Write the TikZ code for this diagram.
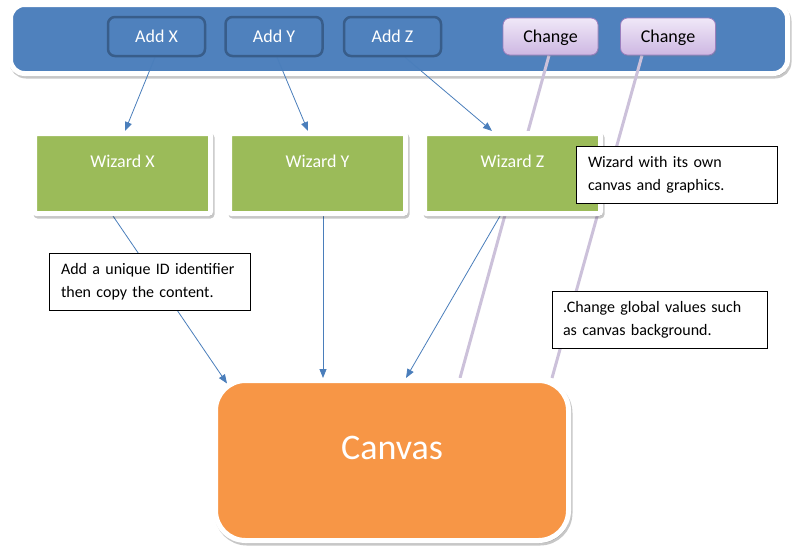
\documentclass[tikz,border=0pt]{standalone}
\usepackage{fontspec}
\setmainfont{Carlito}
\usetikzlibrary{arrows.meta, shadows}

\definecolor{barblue}{HTML}{4F81BD}
\definecolor{btnedge}{HTML}{385D8A}
\definecolor{wizgreen}{HTML}{9BBB59}
\definecolor{canvasorange}{HTML}{F79646}
\definecolor{lavtop}{HTML}{F0E8F8}
\definecolor{lavbot}{HTML}{CDB7E2}
\definecolor{lavedge}{HTML}{9A7EBE}
\definecolor{changeline}{HTML}{CCC1DA}
\definecolor{linkblue}{HTML}{4A7EBB}

\pgfdeclarelayer{barlayer}
\pgfdeclarelayer{links}
\pgfsetlayers{barlayer,links,main}

\begin{document}
\begin{tikzpicture}[
    x=1pt, y=-1pt,
    softshadow/.style={drop shadow={fill=black, draw=black, line width=5pt, opacity=0.22, shadow xshift=1.5pt, shadow yshift=-2.5pt}},
    toolbarbox/.style={rectangle, draw=white, line width=5pt, rounded corners=14pt, fill=barblue, minimum width=777pt, minimum height=69pt, softshadow},
    addbtn/.style={rectangle, draw=btnedge, line width=2.5pt, rounded corners=7pt, fill=barblue, text=white, minimum width=97pt, minimum height=39pt, font=\fontsize{18}{21}\selectfont, text height=12pt, text depth=0pt},
    chgbtn/.style={rectangle, draw=lavedge, line width=0.8pt, rounded corners=7pt, top color=lavtop, bottom color=lavbot, minimum width=95pt, minimum height=37pt, font=\fontsize{18}{21}\selectfont, text height=12pt, text depth=0pt, drop shadow={opacity=0.25, shadow xshift=1pt, shadow yshift=-1.5pt}},
    wizard/.style={rectangle, draw=white, line width=5pt, rounded corners=2pt, fill=wizgreen, text=white, minimum width=176pt, minimum height=80pt, font=\fontsize{18}{21}\selectfont, text height=12pt, text depth=25pt, softshadow},
    canvasbox/.style={rectangle, draw=white, line width=5pt, rounded corners=30pt, fill=canvasorange, text=white, minimum width=353pt, minimum height=160pt, font=\fontsize{36}{40}\selectfont, text height=24pt, text depth=27pt, softshadow},
    note/.style={rectangle, draw=black, line width=0.8pt, fill=white, align=left, inner xsep=12pt, minimum height=57pt, font=\fontsize{16}{23}\selectfont},
    link/.style={draw=linkblue, line width=0.8pt, -{Triangle[length=9pt,width=7pt]}},
    changelink/.style={draw=changeline, line width=3pt}
]
    \useasboundingbox (0,0) rectangle (805,552);

    % toolbar
    \begin{pgfonlayer}{barlayer}
        \node[toolbarbox] (toolbar) at (399,39) {};
    \end{pgfonlayer}
    \node[addbtn] (addx) at (156.5,36.5) {Add X};
    \node[addbtn] (addy) at (274,36.5) {Add Y};
    \node[addbtn] (addz) at (392.5,36.5) {Add Z};
    \node[chgbtn] (chg1) at (550.5,36.5) {Change};
    \node[chgbtn] (chg2) at (668,36.5) {Change};

    % wizards
    \node[wizard] (wizx) at (122.5,173.5) {Wizard X};
    \node[wizard] (wizy) at (317.5,173.5) {Wizard Y};
    \node[wizard] (wizz) at (512.5,173.5) {Wizard Z};

    % canvas
    \node[canvasbox] (canvas) at (392,460.5) {Canvas};

    % notes
    \node[note, text width=177pt] (ownnote) at (676.5,174.5) {\mbox{Wizard with its own}\\\mbox{canvas and graphics.}};
    \node[note, text width=193pt, inner xsep=11pt] (globalnote) at (659.5,319.5) {\mbox{.Change global values such}\\\mbox{as canvas background.}};
    \node[note, text width=177pt] (idnote) at (149.5,282) {\mbox{Add a unique ID identifier}\\\mbox{then copy the content.}};

    % connectors
    \begin{pgfonlayer}{links}
        \draw[link] ([xshift=-1.5pt]addx.south) -- ([xshift=2.5pt]wizx.north);
        \draw[link] ([xshift=3pt]addy.south) -- ([xshift=-9.5pt]wizy.north);
        \draw[link] ([xshift=12.5pt]addz.south) -- ([xshift=-20.5pt]wizz.north);
        \draw[link] ([xshift=-9.5pt]wizx.south) -- ([xshift=14pt,yshift=-5.5pt]canvas.north west);
        \draw[link] ([xshift=5.5pt]wizy.south) -- ([xshift=-69pt]canvas.north);
        \draw[link] ([xshift=-12.5pt]wizz.south) -- ([xshift=14pt]canvas.north);
        \draw[changelink] ([xshift=-1.5pt]chg1.south) -- ([xshift=68pt]canvas.north);
        \draw[changelink] ([xshift=-26pt]chg2.south) -- ([xshift=160pt]canvas.north);
    \end{pgfonlayer}
\end{tikzpicture}
\end{document}
